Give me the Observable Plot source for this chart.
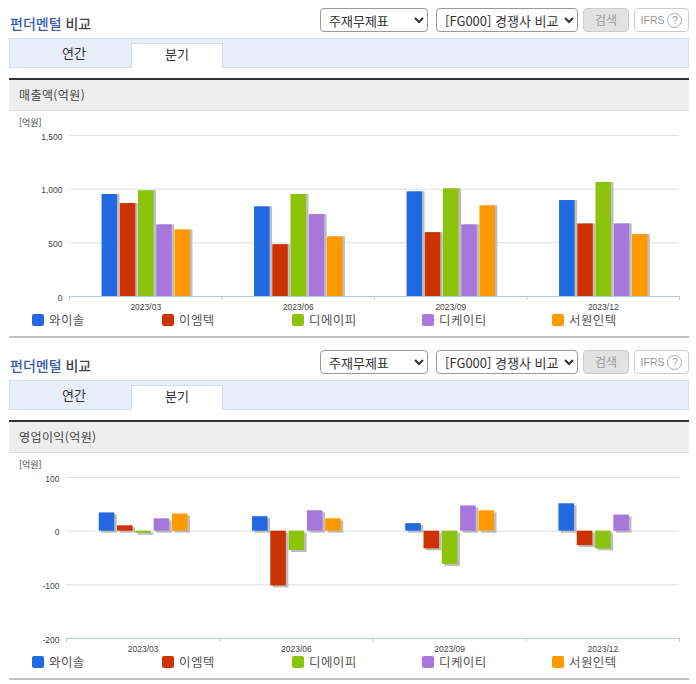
<!DOCTYPE html>
<html lang="ko"><head><meta charset="utf-8">
<script src="https://cdn.jsdelivr.net/npm/d3@7"></script>
<script src="https://cdn.jsdelivr.net/npm/@observablehq/plot@0.6"></script>
<style>
html,body{margin:0;padding:0;background:#fff}
#page{position:relative;width:696px;height:684px;overflow:hidden;font-family:"Noto Sans CJK KR","Noto Sans",sans-serif;color:#444}
#page>div,#page>select,#page>svg{position:absolute}
.title{left:10px;font-size:14px;line-height:20px;font-weight:500;color:#444;white-space:pre}
.title b{font-weight:500;color:#3a5cab}
select{font:13px "Noto Sans CJK KR",sans-serif;color:#333;background:#fff;border:1px solid #999;border-radius:4px;height:24px;padding:0 0 0 4px;box-sizing:border-box}
.btn{top:0;height:24px;box-sizing:border-box;border-radius:4px;text-align:center;font-size:12px;line-height:22px}
.tabs{left:9px;width:680px;height:30px;box-sizing:border-box;background:#e8eef8;border:1px solid #d6dde8}
.tab{height:25px;box-sizing:border-box;text-align:center;font-size:13px;line-height:24px;color:#333}
.tab.on{background:#fff;border:1px solid #d6dde8;border-bottom:none;line-height:20px}
.head{left:9px;width:680px;height:33px;box-sizing:border-box;background:#eee;border-top:2px solid #333;border-bottom:1px solid #ddd;font-size:12px;line-height:29px;padding-left:10px;letter-spacing:.4px;color:#444}
.unit{left:19px;font-size:9px;line-height:12px;color:#444}
.sw{width:12px;height:12px;border-radius:2px}
.lg{font-size:12.5px;line-height:16px;letter-spacing:.4px;color:#555;white-space:pre}
.end{left:9px;width:680px;height:2px;background:#c4c4c4}
</style></head><body><div id="page"></div>
<script>
const periods = ["2023/03", "2023/06", "2023/09", "2023/12"];
const companies = ["와이솔", "이엠텍", "디에이피", "디케이티", "서원인텍"];
const palette = ["#2169e0", "#cc3300", "#8cc30c", "#a678dc", "#ff9900"];

const revenueWisol = [950, 835, 975, 894];
const revenueEmtech = [866, 483, 595, 676];
const revenueDap = [985, 950, 1003, 1062];
const revenueDkt = [667, 763, 667, 676];
const revenueSeowon = [620, 555, 844, 576];

const profitWisol = [34, 27, 14, 51];
const profitEmtech = [10, -102, -33, -27];
const profitDap = [-4, -36, -62, -33];
const profitDkt = [23, 38, 47, 30];
const profitSeowon = [32, 23, 38, null];

const revenueTicks = [0, 500, 1000, 1500];
const profitTicks = [-200, -100, 0, 100];

const revenue = [revenueWisol, revenueEmtech, revenueDap, revenueDkt, revenueSeowon];
const profit = [profitWisol, profitEmtech, profitDap, profitDkt, profitSeowon];

// bar slots within one period band of the x scale
const SLOT0 = 0.2135, SLOT = 0.1194, BAR = 0.1017;
const rows = s => s.flatMap((vals, c) => vals.map((v, p) => ({
  company: companies[c], x1: p + SLOT0 + c * SLOT, x2: p + SLOT0 + c * SLOT + BAR, v
})).filter(d => d.v !== null));

const page = document.getElementById("page");
const add = (cls, css, html) => {
  const d = document.createElement("div");
  d.className = cls; d.style.cssText = css; d.innerHTML = html || "";
  page.appendChild(d); return d;
};

function section(off, label, series, ticks, geom, dy) {
  add("title", `top:${off + 13}px`, "<b>펀더멘털</b> 비교");
  for (const [x, w, t] of [[320, 108, "주재무제표"], [436, 142, "[FG000] 경쟁사 비교"]]) {
    const s = document.createElement("select");
    s.style.cssText = `left:${x}px;top:${off + 8}px;width:${w}px`;
    s.innerHTML = `<option>${t}</option>`;
    page.appendChild(s);
  }
  add("btn", `left:583px;top:${off + 8}px;width:46px;background:#e2e2e2;border:1px solid #ccc;color:#999`, "검색");
  add("btn", `left:634px;top:${off + 8}px;width:55px;background:#fff;border:1px solid #ccc;color:#999;font:10.5px/22px 'Liberation Sans',sans-serif`,
    `IFRS <span style="display:inline-block;width:13px;height:13px;line-height:13px;border:1px solid #aaa;border-radius:50%;font-size:10px">?</span>`);
  add("tabs", `top:${off + 38}px`);
  add("tab", `left:17px;top:${off + 41}px;width:114px`, "연간");
  add("tab on", `left:131px;top:${off + 43}px;width:92px`, "분기");
  add("head", `top:${off + 78}px`, label);
  add("unit", `top:${off + 117}px`, "[억원]");

  const plot = Plot.plot({
    width: 696, height: geom.bottom + 24 - geom.top + 15,
    marginLeft: geom.left, marginRight: 696 - 679, marginTop: 15, marginBottom: 24,
    style: {fontFamily: "'Liberation Sans',sans-serif", fontSize: "8.5px", color: "#444", background: "transparent"},
    x: {domain: [0, periods.length], axis: null},
    y: {domain: d3.extent(ticks), axis: null},
    color: {domain: companies, range: palette},
    marks: [
      Plot.ruleY(ticks, {stroke: "#dcdfe3"}),
      Plot.rect(rows(series), {x1: "x1", x2: "x2", y1: 0, y2: "v", fill: "#a8a8a8", fillOpacity: 0.75, dx: 2.5, dy}),
      Plot.rect(rows(series), {x1: "x1", x2: "x2", y1: 0, y2: "v", fill: "company"}),
      Plot.ruleY([ticks[0]], {stroke: "#b9c8da"}),
      Plot.axisY({ticks, tickSize: 0, tickPadding: 7, dy: 1.5, tickFormat: d => d.toLocaleString("en-US"), label: null}),
      Plot.axisX({ticks: d3.range(periods.length + 1), tickSize: 4, stroke: "#b9c8da", tickFormat: () => "", label: null}),
      Plot.axisX({ticks: periods.map((_, i) => i + 0.5), tickSize: 0, tickPadding: 7,
        tickFormat: d => periods[Math.floor(d)], label: null})
    ]
  });
  plot.style.cssText += `;left:0;top:${off + geom.top - 15}px`;
  page.appendChild(plot);

  companies.forEach((c, i) => {
    add("sw", `left:${32 + i * 130}px;top:${off + 314}px;background:${palette[i]}`);
    add("lg", `left:${49 + i * 130}px;top:${off + 312}px`, c);
  });
  add("end", `top:${off + 336}px`);
}

section(0, "매출액(억원)", revenue, revenueTicks, {left: 69, top: 135, bottom: 296}, 0);
section(342, "영업이익(억원)", profit, profitTicks, {left: 66, top: 135, bottom: 296}, 2);
</script></body></html>
